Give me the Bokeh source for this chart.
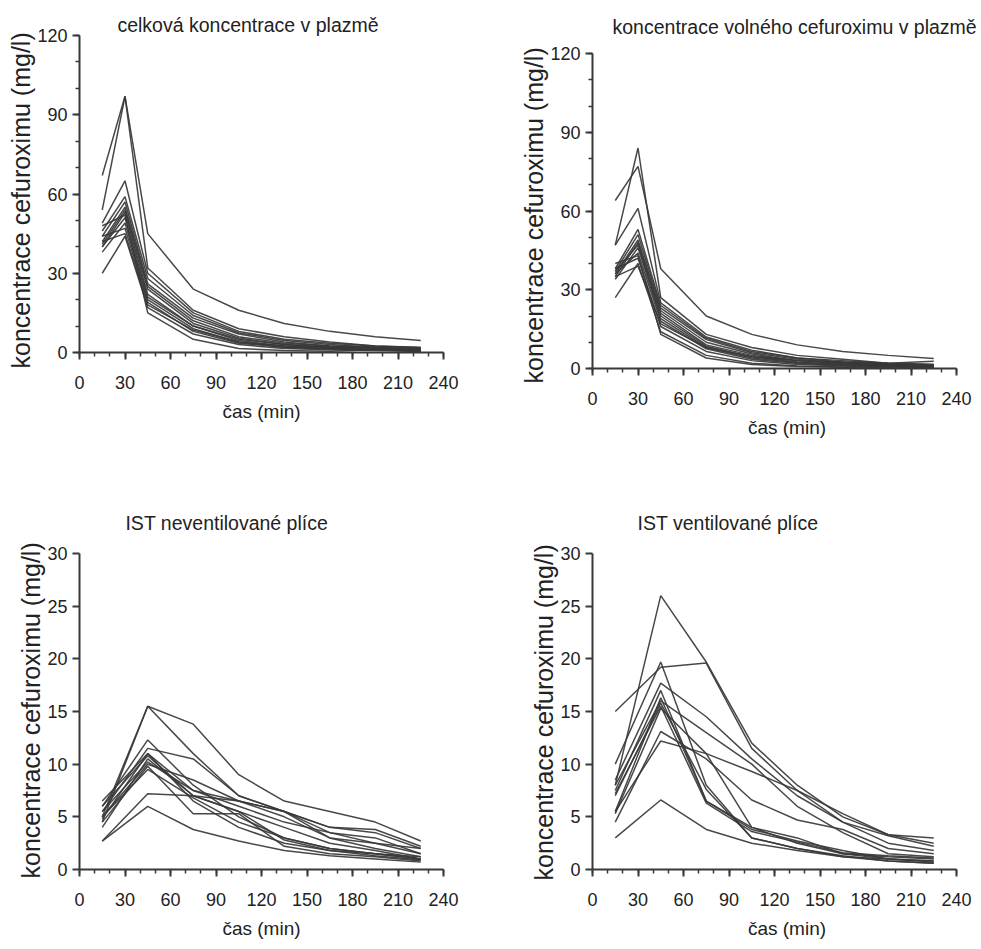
from bokeh.plotting import figure
from bokeh.layouts import column, row
from bokeh.models import Range1d, FixedTicker, Label, Title
from bokeh.embed import file_html
from bokeh.resources import INLINE

# ---- data ----
t_plasma = [15, 30, 45, 75, 105, 135, 165, 195, 225]
t_ist = [15, 45, 75, 105, 135, 165, 195, 225]

total_plasma = [
    [67, 97, 45, 24, 16, 11, 8, 6, 4.5],
    [54, 97, 32, 16, 9, 6, 4, 2.5, 2],
    [49, 65, 30, 15, 8, 5, 3.5, 2.5, 1.8],
    [46, 59, 28, 14, 7.5, 4.5, 3, 2, 1.5],
    [44, 57, 26, 13, 7, 4, 2.5, 2, 1.2],
    [42, 55, 25, 12, 6, 3.5, 2.5, 1.8, 1],
    [41, 54, 24, 11, 5.5, 3, 2, 1.5, 1],
    [40, 53, 22, 10, 5, 3, 2, 1.5, 1],
    [40, 51, 21, 10, 4.5, 2.5, 1.5, 1.2, 0.8],
    [38, 49, 20, 9, 4, 2, 1.5, 1.2, 0.8],
    [44, 47, 19, 8, 3.5, 2, 1.2, 1, 0.6],
    [30, 44, 17, 7, 3, 1.5, 1, 0.8, 0.5],
    [48, 52, 15, 5, 1.5, 0.8, 0.5, 1, 0.4],
    [42, 45, 18, 8.5, 4, 2.5, 2, 1.8, 1.5],
]

free_plasma = [
    [64, 77, 38, 20, 13, 9, 6.5, 5, 3.8],
    [47, 84, 27, 13, 8, 5, 3.5, 2, 1.5],
    [47, 61, 25, 12, 7, 4, 3, 2, 1.5],
    [38, 53, 24, 11.5, 6.5, 4, 2.5, 1.8, 1.2],
    [37, 51, 23, 11, 6, 3.5, 2.2, 1.5, 1],
    [36, 49, 22, 10, 5.5, 3, 2, 1.5, 1],
    [35, 48, 21, 9, 5, 3, 1.8, 1.3, 0.9],
    [37, 47, 20, 8.5, 4.5, 2.5, 1.5, 1.2, 0.8],
    [34, 46, 19, 8, 4, 2.2, 1.3, 1, 0.7],
    [36, 44, 18, 7.5, 3.5, 2, 1.2, 1, 0.6],
    [38, 42, 16, 6.5, 3, 1.5, 1, 0.8, 0.5],
    [27, 40, 14, 5, 2, 1, 0.6, 0.8, 0.4],
    [40, 43, 13, 4, 1.5, 0.8, 0.5, 0.6, 0.3],
    [35, 39, 17, 8, 4.5, 3, 2.5, 2, 2.8],
]

ist_nonvent = [
    [4.5, 15.5, 13.8, 9, 6.5, 5.5, 4.5, 2.7],
    [5, 15.5, 11, 7, 5.5, 3.5, 2.5, 1.5],
    [6, 12.3, 8, 5, 3, 2, 1.5, 1],
    [5.5, 11.5, 10.5, 7, 5.5, 4, 3.5, 2],
    [6.5, 11, 7.5, 6.5, 5.5, 3, 2, 1.2],
    [4, 10.5, 7, 5.5, 4, 2.5, 1.8, 1],
    [5, 10, 8.5, 6.5, 5, 3, 2.5, 2],
    [4.5, 9.8, 5.3, 5.3, 2.2, 1.5, 1.2, 0.8],
    [2.7, 7.2, 7, 6.5, 5.5, 4, 3.8, 2.2],
    [2.7, 6, 3.8, 2.7, 1.8, 1.3, 1, 0.7],
    [5.5, 10.2, 7.5, 6, 4.5, 3.5, 3, 1.5],
    [4.8, 11, 6.5, 4, 2.5, 1.8, 1.3, 0.9],
    [6, 10.8, 7, 5.5, 2.8, 1.8, 1.5, 1.2],
    [5, 9.5, 6.8, 4.5, 3, 2, 1.5, 1],
]

ist_vent = [
    [8, 26, 19.7, 12, 8, 5, 3.3, 3],
    [15, 19.2, 19.6, 11.5, 7.5, 4.5, 2.5, 1.8],
    [10, 19.7, 8, 3, 2, 1.2, 1, 0.8],
    [8.5, 17.7, 14.5, 10.5, 7, 4.5, 3.2, 2.2],
    [7.5, 17, 6.5, 4, 2.5, 1.5, 1.2, 1],
    [5.5, 16.3, 6.5, 3.8, 2.7, 1.8, 1, 0.7],
    [7, 15.8, 7.6, 3, 2, 1.3, 0.8, 0.6],
    [5.3, 15.3, 11, 4, 3, 1.5, 1, 0.8],
    [4.5, 13.1, 10.5, 6.6, 4.7, 3.8, 2, 1.5],
    [5.5, 12.2, 11, 9.3, 7.5, 5.3, 3.3, 2.5],
    [3, 6.6, 3.8, 2.5, 1.8, 1.2, 0.8, 0.6],
    [8, 16, 13, 10, 6, 3.5, 1.5, 1.2],
    [7.2, 15.5, 6.3, 3.6, 2.6, 1.6, 1.3, 1.1],
]

titles = ["celková koncentrace v plazmě",
          "koncentrace volného cefuroximu v plazmě",
          "IST neventilované plíce",
          "IST ventilované plíce"]
y_label = "koncentrace cefuroximu (mg/l)"
x_label = "čas (min)"
x_ticks = [0, 30, 60, 90, 120, 150, 180, 210, 240]
y_ticks_plasma = [0, 30, 60, 90, 120]
y_ticks_ist = [0, 5, 10, 15, 20, 25, 30]

FONT = "Liberation Sans"
INK = "#383838"
TXT = "#222222"
XMAX = 240
AXIS_W = 364  # pixel length of the 0..240 axis


def panel(title, times, series, ymax, yticks, yminor,
          width, height, left, right, bottom, axis_px, title_x, title_px, ylab_offset):
    frame_h = height - bottom
    frame_w = width - left - right
    y_end = ymax * frame_h / axis_px
    x_end = XMAX * frame_w / AXIS_W
    p = figure(width=width, height=height, title=None,
               x_range=Range1d(0, x_end), y_range=Range1d(0, y_end),
               output_backend="svg", toolbar_location=None,
               min_border_left=left, min_border_right=right,
               min_border_top=0, min_border_bottom=bottom,
               background_fill_color="white", border_fill_color="white")
    p.outline_line_color = None
    p.xgrid.visible = False
    p.ygrid.visible = False
    for s in series:
        p.line(times, s, line_color=INK, line_width=1.5, line_alpha=0.92)
    p.xaxis.ticker = FixedTicker(ticks=x_ticks, minor_ticks=list(range(0, XMAX + 1, 10)))
    p.yaxis.ticker = FixedTicker(ticks=yticks, minor_ticks=yminor)
    p.xaxis.bounds = (0, XMAX)
    p.yaxis.bounds = (0, ymax)
    for ax in (p.xaxis[0], p.yaxis[0]):
        ax.axis_line_color = INK
        ax.axis_line_width = 2
        ax.major_tick_line_color = INK
        ax.major_tick_line_width = 2
        ax.minor_tick_line_color = INK
        ax.minor_tick_line_width = 1.5
        ax.major_tick_in = 0
        ax.major_tick_out = 7
        ax.minor_tick_in = 0
        ax.minor_tick_out = 4
        ax.major_label_text_font = FONT
        ax.major_label_text_font_size = "18px"
        ax.major_label_text_color = TXT
        ax.axis_label_text_font = FONT
        ax.axis_label_text_font_style = "normal"
        ax.axis_label_text_color = TXT
    p.xaxis.axis_label = x_label
    p.xaxis.axis_label_text_font_size = "19px"
    p.xaxis.major_label_standoff = 16
    p.xaxis.axis_label_standoff = 9
    p.yaxis.major_label_standoff = 5
    # y axis label as a side title so that it can be centred on the 0..ymax span
    p.add_layout(Title(text=y_label, align="left", offset=ylab_offset, standoff=0,
                       text_font=FONT, text_font_size="25px", text_font_style="normal",
                       text_color=TXT), "left")
    ty = ymax * (frame_h - title_px) / axis_px
    p.add_layout(Label(x=title_x, y=ty, text=title, text_font=FONT,
                       text_font_size="19.5px", text_color=TXT,
                       text_align="left", text_baseline="alphabetic"))
    return p


# geometry: width, height, left, right, bottom, px span of y axis, title x (data),
# title baseline px below figure top, y-label offset along the axis
p1 = panel(titles[0], t_plasma, total_plasma, 120, y_ticks_plasma, list(range(0, 121, 10)),
           500, 488, 79, 57, 136, 317, 25.0, 24, -16)
p3 = panel(titles[2], t_ist, ist_nonvent, 30, y_ticks_ist, [],
           500, 460, 79, 57, 79, 316, 30.3, 34, -9)
p2 = panel(titles[1], t_plasma, free_plasma, 120, y_ticks_plasma, list(range(0, 121, 10)),
           481, 488, 92, 0, 120, 315, 13.2, 26, -15)
p4 = panel(titles[3], t_ist, ist_vent, 30, y_ticks_ist, [],
           481, 460, 92, 0, 79, 316, 29.7, 34, -11)

layout = row(column(p1, p3), column(p2, p4))
open("out.html", "w").write(file_html(layout, INLINE))
